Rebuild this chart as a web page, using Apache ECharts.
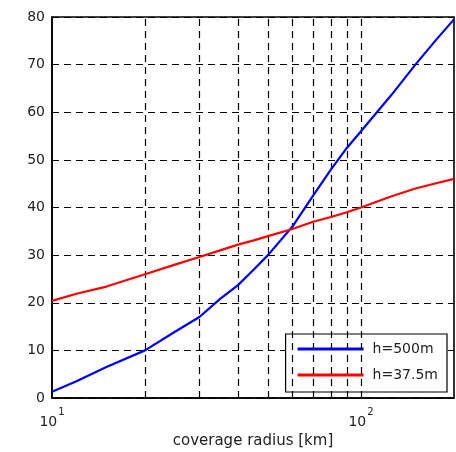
<!DOCTYPE html>
<html><head><meta charset="utf-8">
<script src="https://cdn.jsdelivr.net/npm/echarts@6/dist/echarts.min.js"></script>
<style>html,body{margin:0;padding:0;background:#fff}#c{width:456px;height:452px}</style>
</head><body><div id="c"></div>
<script>
const radius = [10, 12, 15, 20, 25, 30, 35, 40, 45, 50, 60, 70, 80, 90, 100, 125, 150, 175, 200];
const h500 = [1.3, 3.5, 6.5, 10, 13.9, 17, 20.8, 23.7, 27, 30, 36, 42.5, 48, 52.5, 56, 63.5, 70, 75.2, 79.5];
const h37 = [20.4, 21.9, 23.4, 26, 28, 29.6, 31, 32.2, 33.1, 34, 35.5, 37, 38, 39, 40, 42.3, 44, 45.1, 46];
const minorX = [20, 30, 40, 50, 60, 70, 80, 90, 100];
const seriesNames = ['h=500m', 'h=37.5m'];
const xName = 'coverage radius [km]';

const chart = echarts.init(document.getElementById('c'), null, {renderer: 'canvas'});
const font = 'DejaVu Sans, sans-serif';
const txt = '#222';
const dash = [7, 5];
chart.setOption({
  animation: false,
  backgroundColor: '#fff',
  grid: {left: 52, right: 2, top: 17, bottom: 54, outerBoundsMode: 'none', containLabel: false,
         show: true, borderColor: '#000', borderWidth: 1.6, backgroundColor: 'transparent'},
  legend: {
    orient: 'vertical', right: 9, bottom: 60,
    data: seriesNames,
    icon: 'rect', itemWidth: 66, itemHeight: 3, itemGap: 10,
    backgroundColor: '#fff', borderColor: '#000', borderWidth: 1.2,
    padding: [7, 9, 9, 12],
    textStyle: {fontFamily: font, fontSize: 14, color: txt, lineHeight: 16, padding: [0, 0, 0, 4]}
  },
  xAxis: {
    type: 'log', logBase: 10, min: 10, max: 200,
    name: xName, nameLocation: 'middle', nameGap: 35,
    nameTextStyle: {fontFamily: font, fontSize: 15, color: txt},
    axisLine: {lineStyle: {color: '#000', width: 1.6}},
    axisTick: {show: false},
    splitLine: {show: false},
    axisLabel: {
      margin: 9, color: txt, fontFamily: font, fontSize: 14,
      formatter: function (v) {
        const e = Math.round(Math.log10(v));
        if (Math.abs(Math.pow(10, e) - v) > 1e-6) return '';
        return '{b|10}{s|' + e + '}';
      },
      rich: {
        b: {fontFamily: font, fontSize: 14, color: txt, padding: [8, 0, 0, 0]},
        s: {fontFamily: font, fontSize: 10, color: txt, verticalAlign: 'top', padding: [0, 0, 0, 1]}
      }
    }
  },
  yAxis: {
    type: 'value', min: 0, max: 80, interval: 10,
    axisLine: {show: true, lineStyle: {color: '#000', width: 1.6}},
    axisTick: {show: true, inside: true, length: 5, lineStyle: {color: '#000'}},
    axisLabel: {color: txt, fontFamily: font, fontSize: 14, margin: 7},
    splitLine: {show: true, lineStyle: {color: '#000', type: dash, width: 1.2}}
  },
  series: [
    {
      name: seriesNames[0], type: 'line', data: radius.map((r, i) => [r, h500[i]]),
      showSymbol: false, smooth: false,
      lineStyle: {color: '#0000ff', width: 2.2}, itemStyle: {color: '#0000ff'},
      z: 5,
      markLine: {
        silent: true, symbol: 'none', label: {show: false},
        lineStyle: {color: '#000', type: dash, width: 1.2},
        data: minorX.map(v => ({xAxis: v}))
      }
    },
    {
      name: seriesNames[1], type: 'line', data: radius.map((r, i) => [r, h37[i]]),
      showSymbol: false, smooth: false,
      lineStyle: {color: '#ff0000', width: 2.2}, itemStyle: {color: '#ff0000'},
      z: 5
    }
  ]
});
</script></body></html>
